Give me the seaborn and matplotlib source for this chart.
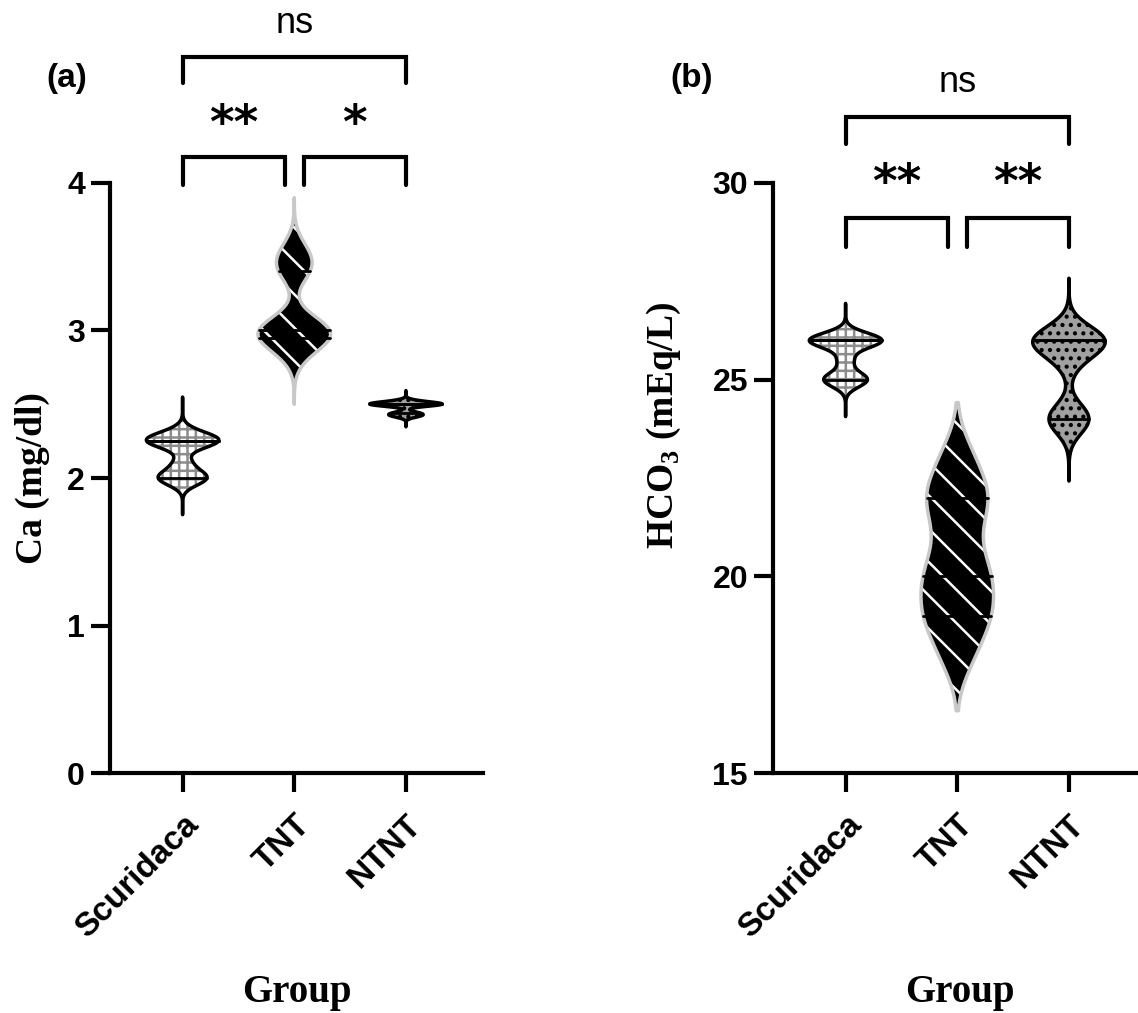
import numpy as np
import pandas as pd
import matplotlib
matplotlib.use('Agg')
import matplotlib.pyplot as plt
import matplotlib.transforms as mtransforms
from matplotlib.collections import PolyCollection
import seaborn as sns

groups = ['Scuridaca', 'TNT', 'NTNT']

# Ca (mg/dl) per group
ca_scuridaca = [2.0, 2.0, 2.0, 2.1, 2.25, 2.25, 2.25, 2.25, 2.3]
ca_tnt = [2.85, 2.95, 2.95, 3.0, 3.0, 3.05, 3.4, 3.45, 3.55]
ca_ntnt = [2.42, 2.43, 2.44, 2.5, 2.5, 2.5, 2.5, 2.5, 2.52]

# HCO3 (mEq/L) per group
hco3_scuridaca = [25, 25, 25, 25.5, 26, 26, 26, 26, 26]
hco3_tnt = [18, 19, 19, 20, 20, 21, 22, 22, 23]
hco3_ntnt = [24, 24, 24, 25.5, 26, 26, 26, 26, 26]

ca_sig = ['**', '*', 'ns']
hco3_sig = ['**', '**', 'ns']

# kde smoothing per violin
ca_bw = [0.6, 0.6, 0.6]
ca_cut = [5, 3.5, 5]
hco3_bw = [0.6, 0.6, 0.6]
hco3_cut = [5, 2.2, 4.2]

sns.set_style('ticks')
plt.rcParams.update({
    'hatch.linewidth': 1.8,
    'mathtext.fontset': 'custom',
    'mathtext.bf': 'Liberation Serif:bold',
    'mathtext.rm': 'Liberation Serif:bold',
    'text.color': 'black',
    'axes.labelcolor': 'black',
    'axes.edgecolor': 'black',
    'xtick.color': 'black',
    'ytick.color': 'black',
})


def long_df(values):
    rows = []
    for g, vals in zip(groups, values):
        for v in vals:
            rows.append((g, v))
    return pd.DataFrame(rows, columns=['group', 'value'])


ca_df = long_df([ca_scuridaca, ca_tnt, ca_ntnt])
hco3_df = long_df([hco3_scuridaca, hco3_tnt, hco3_ntnt])

# face, hatch, hatch colour, outline colour
styles = [('white', '++', '#8c8c8c', 'black'),
          ('black', '\\', 'white', '#c8c8c8'),
          ('#a0a0a0', '..', 'black', 'black')]


def style_violins(ax):
    polys = [c for c in ax.collections if isinstance(c, PolyCollection)]
    for poly, (face, hatch, hcol, edge) in zip(polys, styles):
        poly.set_facecolor(face)
        poly.set_hatch(hatch)
        poly.set_edgecolor(hcol)
        poly.set_linewidth(0)
        outline = PolyCollection([p.vertices for p in poly.get_paths()],
                                 facecolor='none', edgecolor=edge,
                                 linewidth=2.5, zorder=poly.get_zorder() + 0.1)
        ax.add_collection(outline, autolim=False)
    for ln in ax.lines:
        ln.set_linestyle('-')
        ln.set_color('black')
        ln.set_linewidth(2)
        ln.set_zorder(5)


def bracket(ax, x1, x2, y, tip, text, text_y, size, weight):
    trans = mtransforms.blended_transform_factory(ax.transData, ax.transAxes)
    ax.plot([x1, x1, x2, x2], [y - tip, y, y, y - tip], color='black',
            lw=3, transform=trans, clip_on=False, solid_joinstyle='miter')
    ax.text((x1 + x2) / 2, text_y, text, transform=trans, ha='center',
            va='center', fontsize=size, fontweight=weight,
            family='DejaVu Sans' if text != 'ns' else 'Liberation Sans')


fig = plt.figure(figsize=(11.38, 10.13), dpi=100)
ax1 = fig.add_axes([110 / 1138, 240 / 1013, 373 / 1138, 590 / 1013])
ax2 = fig.add_axes([773 / 1138, 240 / 1013, 373 / 1138, 590 / 1013])

panels = [(ax1, ca_df, ca_bw, ca_cut, (0, 4), [0, 1, 2, 3, 4], 'Ca (mg/dl)', -0.161, 0.5, ca_sig,
           (1.044, 0.047, 1.098, 1.214, 0.045, 1.271), '(a)', 67),
          (ax2, hco3_df, hco3_bw, hco3_cut, (15, 30), [15, 20, 25, 30],
           r'HCO$_\mathbf{3}$ (mEq/L)', -0.241, 0.59,
           hco3_sig, (0.941, 0.049, 0.997, 1.112, 0.046, 1.171), '(b)', 692)]

for ax, df, bws, cuts, ylim, yt, ylab, lx, ly, sig, pos, tag, tagx in panels:
    for g, bw, cut in zip(groups, bws, cuts):
        sns.violinplot(data=df[df['group'] == g], x='group', y='value', order=groups,
                       inner='quart', density_norm='width', width=0.65, cut=cut,
                       bw_adjust=bw, color='white', linewidth=2, ax=ax)
    style_violins(ax)
    ax.set_xlim(-0.65, 2.69)
    ax.set_ylim(*ylim)
    ax.set_yticks(yt)
    sns.despine(ax=ax)
    for s in ['left', 'bottom']:
        ax.spines[s].set_linewidth(3)
    ax.tick_params(width=3, length=14, labelsize=23, pad=4)
    ax.tick_params(axis='x', pad=12)
    for lab in ax.get_yticklabels():
        lab.set_fontfamily('Liberation Sans')
        lab.set_fontweight('bold')
    for lab in ax.get_xticklabels():
        lab.set_fontfamily('Liberation Sans')
        lab.set_fontweight('bold')
        lab.set_fontsize(24)
        lab.set_rotation(45)
        lab.set_ha('right')
        lab.set_rotation_mode('anchor')
    ax.set_ylabel(ylab, fontsize=27, fontweight='bold', family='Liberation Serif')
    ax.yaxis.set_label_coords(lx, ly)
    ax.set_xlabel('Group', fontsize=28, fontweight='bold', family='Liberation Serif')
    ax.xaxis.set_label_coords(0.5, -0.34)
    low_y, low_tip, star_y, top_y, top_tip, ns_y = pos
    bracket(ax, 0, 0.92, low_y, low_tip, sig[0], star_y, 34, 'bold')
    bracket(ax, 1.085, 2, low_y, low_tip, sig[1], star_y, 34, 'bold')
    bracket(ax, 0, 2, top_y, top_tip, sig[2], ns_y, 26, 'normal')
    fig.text(tagx / 1138, 1 - 78 / 1013, tag, ha='center', va='center',
             fontsize=24, fontweight='bold', family='Liberation Sans')

fig.savefig('out.png', dpi=100)
